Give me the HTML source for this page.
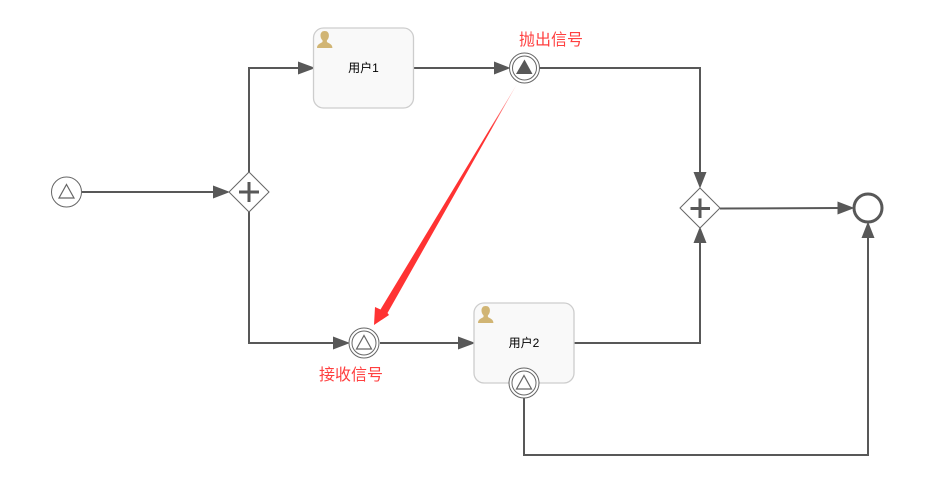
<!DOCTYPE html>
<html><head><meta charset="utf-8">
<style>
html,body{margin:0;padding:0;background:#fff;width:942px;height:504px;overflow:hidden}
svg{display:block}
text{font-family:"Liberation Sans","Noto Sans CJK SC",sans-serif}
</style></head><body>
<svg width="942" height="504" viewBox="0 0 942 504" xmlns="http://www.w3.org/2000/svg">
<defs>
<linearGradient id="rg" gradientUnits="userSpaceOnUse" x1="517" y1="84" x2="440" y2="215">
<stop offset="0" stop-color="#ff3333" stop-opacity="0.25"/><stop offset="0.35" stop-color="#ff3333"/>
</linearGradient>
</defs>
<g fill="none" stroke="#585858" stroke-width="2">
<path d="M82 192H215"/>
<path d="M249 172V68H300"/>
<path d="M249 212V343H335"/>
<path d="M414 68H496"/>
<path d="M539 68H700V174"/>
<path d="M380 343H460"/>
<path d="M574 343H700V240"/>
<path d="M720 208.500L840 208"/>
<path d="M524 398V455H868V238"/>
</g>
<g fill="#585858">
<polygon points="230,192 213,185.500 213,198.500"/>
<polygon points="315.500,68 298,61.500 298,74.500"/>
<polygon points="350,343 333,336.500 333,349.500"/>
<polygon points="510.500,68 494,61.500 494,74.500"/>
<polygon points="475.500,343 458,336.500 458,349.500"/>
<polygon points="700,188.500 693.500,172 706.500,172"/>
<polygon points="700,226.500 693.500,243 706.500,243"/>
<polygon points="854.500,208 837.500,201.500 837.500,214.500"/>
<polygon points="868,221.500 861.500,238 874.500,238"/>
</g>
<circle cx="66.500" cy="192" r="15" fill="#fff" stroke="#666" stroke-width="1"/>
<polygon points="66.500,184.500 74,198 59,198" fill="none" stroke="#666" stroke-width="1.200"/>
<polygon points="249,172 269,192 249,212 229,192" fill="#fff" stroke="#666" stroke-width="1"/>
<path d="M239 192H259M249 182V202" stroke="#585858" stroke-width="3" fill="none"/>
<rect x="313.500" y="28" width="100" height="80" rx="10" fill="#f9f9f9" stroke="#cdcdcd" stroke-width="1.300"/>
<path d="M317 48c0-4 3.500-4.500 5.500-6v-1.800c-1.500-1.200-2-3-2-4.700 0-2.800 1.500-4.500 4.200-4.500s4.200 1.700 4.200 4.500c0 1.700-.5 3.500-2 4.700v1.800c2 1.500 5.500 2 5.500 6z" fill="#d1b574"/>
<text x="363.500" y="72" font-size="12" text-anchor="middle" fill="#000">用户1</text>
<rect x="474" y="303" width="100" height="80" rx="10" fill="#f9f9f9" stroke="#cdcdcd" stroke-width="1.300"/>
<path d="M478 323c0-4 3.500-4.500 5.500-6v-1.800c-1.500-1.200-2-3-2-4.700 0-2.800 1.500-4.500 4.200-4.500s4.200 1.700 4.200 4.500c0 1.700-.5 3.500-2 4.700v1.800c2 1.500 5.500 2 5.500 6z" fill="#d1b574"/>
<text x="524" y="347" font-size="12" text-anchor="middle" fill="#000">用户2</text>
<circle cx="524.500" cy="68" r="15" fill="#fff" stroke="#666" stroke-width="1"/>
<circle cx="524.500" cy="68" r="12" fill="#fff" stroke="#666" stroke-width="1"/>
<polygon points="524.500,59.500 532.500,74 516,74" fill="#585858"/>
<circle cx="364" cy="343" r="15" fill="#fff" stroke="#666" stroke-width="1"/>
<circle cx="364" cy="343" r="12" fill="#fff" stroke="#666" stroke-width="1"/>
<polygon points="364,335.500 371.500,349 356.500,349" fill="none" stroke="#666" stroke-width="1.200"/>
<circle cx="524" cy="383" r="15" fill="#fff" stroke="#666" stroke-width="1"/>
<circle cx="524" cy="383" r="12" fill="#fff" stroke="#666" stroke-width="1"/>
<polygon points="524,375.500 531.500,389 516.500,389" fill="none" stroke="#666" stroke-width="1.200"/>
<polygon points="700,188 720,208 700,228 680,208" fill="#fff" stroke="#666" stroke-width="1"/>
<path d="M690.500 208.500H710M700 198.500V218" stroke="#585858" stroke-width="3" fill="none"/>
<circle cx="868" cy="208" r="14" fill="#fff" stroke="#585858" stroke-width="3"/>
<polygon points="517,84 387.500,313 389,315 374,325 375,307 380.500,309.500" fill="url(#rg)"/>
<text x="551" y="45" font-size="16" text-anchor="middle" fill="#ff3f3f">抛出信号</text>
<text x="351" y="380" font-size="16" text-anchor="middle" fill="#ff3f3f">接收信号</text>
</svg>
</body></html>
